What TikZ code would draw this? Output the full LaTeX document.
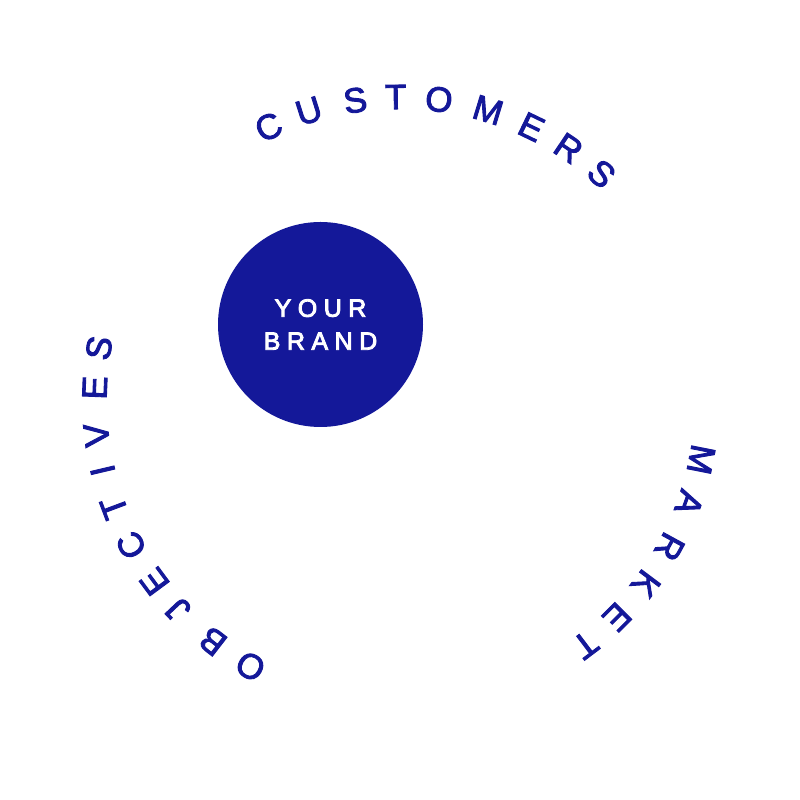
\documentclass[tikz,border=0pt]{standalone}
\usepackage{fontspec}
\setmainfont{Liberation Sans}
\usetikzlibrary{calc}
\definecolor{brandblue}{RGB}{20,24,153}
\newcommand{\heavy}[1]{\special{pdf:literal direct 2 Tr 0.9 w}#1\special{pdf:literal direct 0 Tr}}
\tikzset{
  ringletter/.style={text=brandblue, inner sep=0pt, anchor=center,
    font=\fontsize{35}{35}\selectfont},
  brandtext/.style={text=white, inner sep=0pt, align=center,
    font=\fontsize{25}{33}\selectfont},
}
\newcommand{\trk}{\kern6.5pt}
\begin{document}
\begin{tikzpicture}[x=1pt,y=1pt]
  \useasboundingbox (0,0) rectangle (800,800);
  \coordinate (ringcenter) at (400,400);
  % central disc
  \fill[brandblue] (320.5,475.5) circle[radius=102.5];
  \node[brandtext] (brand) at (320.5,475.5)
    {\heavy{Y\trk O\trk U\trk R}\\\heavy{B\trk R\trk A\trk N\trk D}};
  % CUSTOMERS
  \foreach \ch/\ang [count=\i] in {C/115.7,U/107.5,S/98.5,T/90.8,O/82.6,M/73.1,E/64.3,R/56.2,S/48.3}
    \node[ringletter, rotate=\ang-90] (cust\i) at ($(ringcenter)+(\ang:303)$) {\heavy{\ch}};
  % MARKET
  \foreach \ch/\ang [count=\i] in {M/-11.2,A/-19.6,R/-28.6,K/-36.8,E/-45,T/-52.9}
    \node[ringletter, rotate=\ang-90] (mark\i) at ($(ringcenter)+(\ang:307)$) {\heavy{\ch}};
  % OBJECTIVES
  \foreach \ch/\ang [count=\i] in {O/240.7,B/232.2,J/223.4,E/216.5,C/208.4,T/200.6,I/193.3,V/186.6,E/177.7,S/170.2}
    \node[ringletter, rotate=\ang-90] (obj\i) at ($(ringcenter)+(\ang:305.5)$) {\heavy{\ch}};
\end{tikzpicture}
\end{document}
